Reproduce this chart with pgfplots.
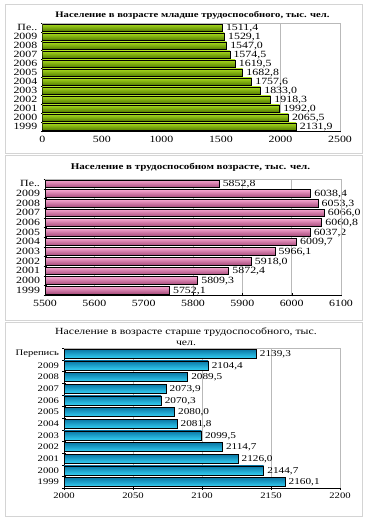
\documentclass[border=0pt]{standalone}
\usepackage{fontspec}
\setmainfont[FakeStretch=1.25]{Liberation Serif}
\usepackage{pgfplots}
\pgfplotsset{compat=1.18}
\definecolor{gtop}{HTML}{A8DA1E}
\definecolor{gmid}{HTML}{90C40A}
\definecolor{gbot}{HTML}{557F00}
\definecolor{ptop}{HTML}{F6A6D0}
\definecolor{pmid}{HTML}{E47CB3}
\definecolor{pbot}{HTML}{A84C7C}
\definecolor{ctop}{HTML}{0A78A6}
\definecolor{cmid}{HTML}{12A8D8}
\definecolor{cbot}{HTML}{34D0F4}
\definecolor{boxc}{HTML}{D4D4D4}
\pgfplotsset{
  panel/.style={
    xbar, scale only axis, anchor=south west,
    ymin=-0.5, ymax=11.5,
    ytick={0,...,11},
    minor ytick={-0.5,0.5,...,11.5},
    major tick length=3pt, minor tick length=3pt,
    tick align=outside,
    axis lines=left, axis line style={black, -},
    major y tick style={draw=none},
    tick style={black},
    xmajorgrids, major grid style={gray!55},
    tick label style={font=\fontsize{9.5}{10}\selectfont},
    /pgf/number format/assume math mode=true,
    /pgf/number format/1000 sep={},
    nodes near coords,
    nodes near coords style={font=\fontsize{9.5}{10}\selectfont, anchor=west, inner sep=1pt, xshift=2.5pt, yshift=-0.5pt,
      /pgf/number format/fixed, /pgf/number format/fixed zerofill, /pgf/number format/precision=1,
      /pgf/number format/use comma, /pgf/number format/1000 sep={}, /pgf/number format/assume math mode=true},
    after end axis/.code={\draw[gray!55] (rel axis cs:0,1) -- (rel axis cs:1,1) -- (rel axis cs:1,0);},
  },
  gb/.style={draw=black, line width=0.5pt, bar shift=0pt, top color=gtop, middle color=gmid, bottom color=gbot},
  pb/.style={draw=black, line width=0.5pt, bar shift=0pt, top color=ptop, middle color=pmid, bottom color=pbot},
  cb/.style={draw=black, line width=0.5pt, bar shift=0pt, top color=ctop, middle color=cmid, bottom color=cbot},
}
\begin{document}
\begin{tikzpicture}
\path[use as bounding box] (0pt,0pt) rectangle (365pt,519pt);
\draw[boxc, fill=white] (5pt,366pt) rectangle (362pt,515pt);
\draw[boxc, fill=white] (5pt,199pt) rectangle (362pt,364pt);
\draw[boxc, fill=white] (5pt,3pt) rectangle (362pt,197pt);

\node[font=\fontsize{8.5}{9}\selectfont\bfseries] at (192.5pt,504pt) {Население в возрасте младше трудоспособного, тыс. чел.};
\node[font=\fontsize{8.8}{9}\selectfont\bfseries] at (190.5pt,352pt) {Население в трудоспособном возрасте, тыс. чел.};
\node[font=\fontsize{9.4}{11}\selectfont, align=center] at (186pt,182pt) {Население в возрасте старше трудоспособного, тыс.\\чел.};

\begin{axis}[panel, at={(42.3pt,388pt)}, width=297.7pt, height=108pt,
  xmin=0, xmax=2500, xtick={0,500,...,2500}, bar width=7pt,
  yticklabels={1999,2000,2001,2002,2003,2004,2005,2006,2007,2008,2009,Пе..}]
\addplot[gb] coordinates {(2131.9,0)};
\addplot[gb] coordinates {(2065.5,1)};
\addplot[gb] coordinates {(1992.0,2)};
\addplot[gb] coordinates {(1918.3,3)};
\addplot[gb] coordinates {(1833.0,4)};
\addplot[gb] coordinates {(1757.6,5)};
\addplot[gb] coordinates {(1682.8,6)};
\addplot[gb] coordinates {(1619.5,7)};
\addplot[gb] coordinates {(1574.5,8)};
\addplot[gb] coordinates {(1547.0,9)};
\addplot[gb] coordinates {(1529.1,10)};
\addplot[gb] coordinates {(1511.4,11)};
\end{axis}

\begin{axis}[panel, at={(45pt,224pt)}, width=296pt, height=116pt,
  xmin=5500, xmax=6100, xtick={5500,5600,...,6100}, bar width=7.5pt,
  yticklabels={1999,2000,2001,2002,2003,2004,2005,2006,2007,2008,2009,Пе..}]
\addplot[pb] coordinates {(5752.1,0)};
\addplot[pb] coordinates {(5809.3,1)};
\addplot[pb] coordinates {(5872.4,2)};
\addplot[pb] coordinates {(5918.0,3)};
\addplot[pb] coordinates {(5966.1,4)};
\addplot[pb] coordinates {(6009.7,5)};
\addplot[pb] coordinates {(6037.2,6)};
\addplot[pb] coordinates {(6060.8,7)};
\addplot[pb] coordinates {(6066.0,8)};
\addplot[pb] coordinates {(6053.3,9)};
\addplot[pb] coordinates {(6038.4,10)};
\addplot[pb] coordinates {(5852.8,11)};
\end{axis}

\begin{axis}[panel, at={(64pt,31pt)}, width=276pt, height=140pt,
  xmin=2000, xmax=2200, xtick={2000,2050,...,2200}, bar width=9pt,
  tick label style={font=\fontsize{8.5}{10}\selectfont},
  nodes near coords style={font=\fontsize{9}{10}\selectfont},
  yticklabels={1999,2000,2001,2002,2003,2004,2005,2006,2007,2008,2009,Перепись}]
\addplot[cb] coordinates {(2160.1,0)};
\addplot[cb] coordinates {(2144.7,1)};
\addplot[cb] coordinates {(2126.0,2)};
\addplot[cb] coordinates {(2114.7,3)};
\addplot[cb] coordinates {(2099.5,4)};
\addplot[cb] coordinates {(2081.8,5)};
\addplot[cb] coordinates {(2080.0,6)};
\addplot[cb] coordinates {(2070.3,7)};
\addplot[cb] coordinates {(2073.9,8)};
\addplot[cb] coordinates {(2089.5,9)};
\addplot[cb] coordinates {(2104.4,10)};
\addplot[cb] coordinates {(2139.3,11)};
\end{axis}
\end{tikzpicture}
\end{document}
